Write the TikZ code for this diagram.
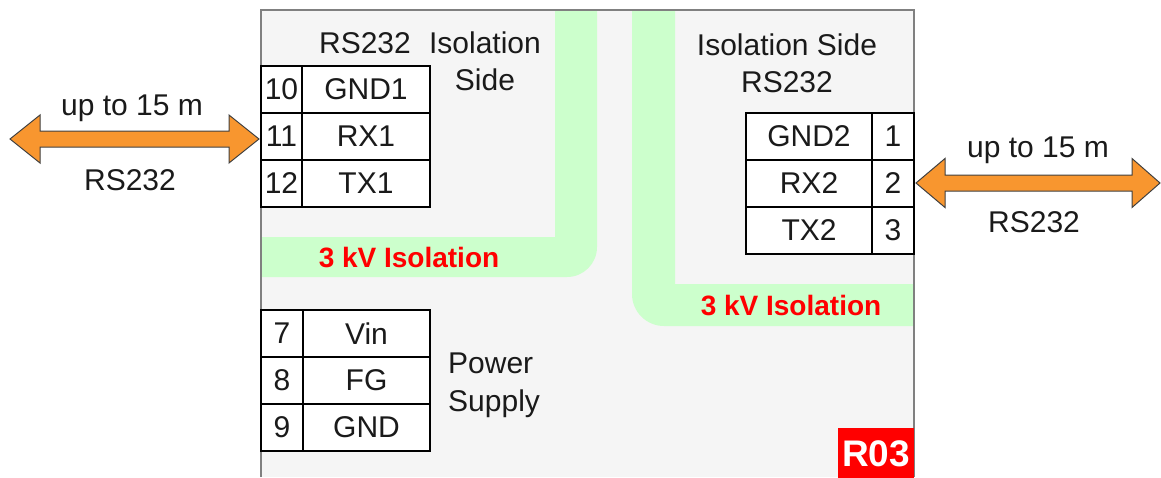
\documentclass[tikz,border=0pt]{standalone}
\usepackage{fontspec}
\setmainfont{Liberation Sans}
\definecolor{bggray}{HTML}{F5F5F5}
\definecolor{bordergray}{HTML}{808080}
\definecolor{isogreen}{HTML}{CCFFCC}
\definecolor{arroworange}{HTML}{F8962F}
\definecolor{txt}{HTML}{1A1A1A}
\begin{document}
\begin{tikzpicture}[x=1pt,y=-1pt,
  cell/.style={draw=black, line width=1.3pt, fill=white, inner sep=0pt, text=txt,
    font=\fontsize{30}{36}\selectfont},
  lbl/.style={inner sep=0pt, anchor=base, text=txt, font=\fontsize{30}{36}\selectfont},
  iso/.style={inner sep=0pt, anchor=base, text=red, font=\bfseries\fontsize{28}{34}\selectfont},
  arrowshape/.style={fill=arroworange, draw=black!75, line width=1pt, line join=miter}]
\useasboundingbox (0,0) rectangle (1161,477);
% module body
\fill[bggray] (261,10) rectangle (914,477);
% isolation bands
\fill[isogreen] (261,237) -- (555,237) -- (555,10) -- (597,10) -- (597,247)
  arc[start angle=0,end angle=90,radius=30] -- (261,277) -- cycle;
\fill[isogreen] (914,284) -- (675,284) -- (675,10) -- (632,10) -- (632,294)
  arc[start angle=180,end angle=90,radius=32] -- (914,326) -- cycle;
\draw[bordergray, line width=1.3pt] (261,477) -- (261,10) -- (914,10) -- (914,477);
% labels
\node[lbl] (lrs) at (365,53) {RS232};
\node[lbl] (liso) at (485,53) {Isolation};
\node[lbl] (lside) at (485,90) {Side};
\node[lbl] (riso) at (787,55) {Isolation Side};
\node[lbl] (rrs) at (787,92) {RS232};
\node[iso] (iso1) at (409,267) {3 kV Isolation};
\node[iso] (iso2) at (791,315) {3 kV Isolation};
\node[lbl, anchor=base west] (pw) at (448,373) {Power};
\node[lbl, anchor=base west] (sp) at (448,411) {Supply};
% left table
\node[cell, minimum width=41pt, minimum height=47pt] (n10) at (281.5,89.5) {10};
\node[cell, minimum width=128pt, minimum height=47pt] (gnd1) at (366,89.5) {GND1};
\node[cell, minimum width=41pt, minimum height=47pt] (n11) at (281.5,136.5) {11};
\node[cell, minimum width=128pt, minimum height=47pt] (rx1) at (366,136.5) {RX1};
\node[cell, minimum width=41pt, minimum height=47pt] (n12) at (281.5,183.5) {12};
\node[cell, minimum width=128pt, minimum height=47pt] (tx1) at (366,183.5) {TX1};
% right table
\node[cell, minimum width=126pt, minimum height=47pt] (gnd2) at (809,136.5) {GND2};
\node[cell, minimum width=42pt, minimum height=47pt] (n1) at (893,136.5) {1};
\node[cell, minimum width=126pt, minimum height=47pt] (rx2) at (809,183.5) {RX2};
\node[cell, minimum width=42pt, minimum height=47pt] (n2) at (893,183.5) {2};
\node[cell, minimum width=126pt, minimum height=47pt] (tx2) at (809,230.5) {TX2};
\node[cell, minimum width=42pt, minimum height=47pt] (n3) at (893,230.5) {3};
% power table
\node[cell, minimum width=42pt, minimum height=47pt] (n7) at (282,333.5) {7};
\node[cell, minimum width=127pt, minimum height=47pt] (vin) at (366.5,333.5) {Vin};
\node[cell, minimum width=42pt, minimum height=47pt] (n8) at (282,380.5) {8};
\node[cell, minimum width=127pt, minimum height=47pt] (fg) at (366.5,380.5) {FG};
\node[cell, minimum width=42pt, minimum height=47pt] (n9) at (282,427.5) {9};
\node[cell, minimum width=127pt, minimum height=47pt] (gnd) at (366.5,427.5) {GND};
% R03 tag
\node[fill=red, text=white, inner sep=0pt, minimum width=76pt, minimum height=52pt,
  font=\bfseries\fontsize{37}{40}\selectfont, anchor=north west] (tag) at (838,428) {R03};
% left double arrow
\draw[arrowshape] (10,139) -- (40,115) -- (40,131) -- (229,131) -- (229,115) -- (259,139)
  -- (229,163) -- (229,147) -- (40,147) -- (40,163) -- cycle;
\node[lbl] (lup) at (132,115) {up to 15 m};
\node[lbl] (lrs2) at (130,190) {RS232};
% right double arrow
\draw[arrowshape] (916,183) -- (945,158.5) -- (945,175) -- (1132,175) -- (1132,158.5) -- (1160,183)
  -- (1132,207.5) -- (1132,191) -- (945,191) -- (945,207.5) -- cycle;
\node[lbl] (rup) at (1038,157) {up to 15 m};
\node[lbl] (rrs2) at (1034,232) {RS232};
\end{tikzpicture}
\end{document}
